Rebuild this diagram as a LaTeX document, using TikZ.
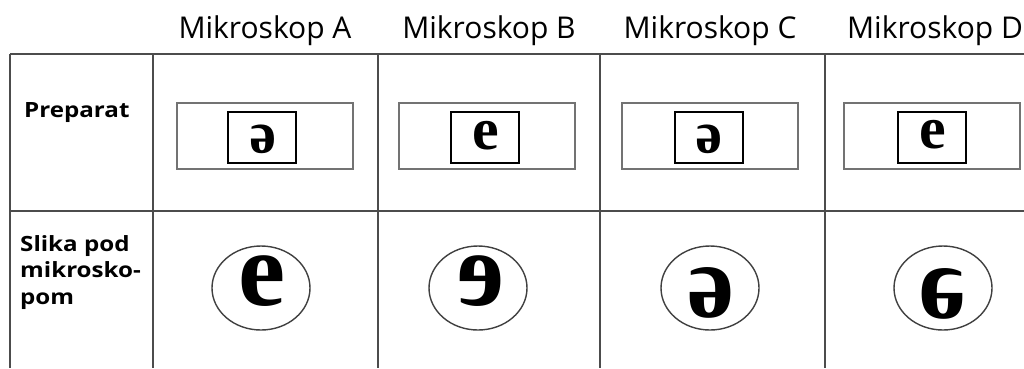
\documentclass[tikz,border=0pt]{standalone}
\usepackage{fontspec}
\setmainfont{Liberation Serif}
\newfontfamily\myserifbold{Liberation Serif Bold}
\newfontfamily\hdrfont{Open Sans}
\newfontfamily\lblfont{Open Sans Bold}[FakeStretch=1.15]
\newcommand\sg[1]{{\myserifbold\fontsize{60}{62}\selectfont #1}}
\newcommand\bg[1]{{\myserifbold\fontsize{106}{110}\selectfont #1}}
\begin{document}
\begin{tikzpicture}[x=1pt,y=-1pt,
  grid/.style={draw=black!70, line width=1.8pt},
  slide/.style={draw=black!55, line width=1.8pt},
  cover/.style={draw=black, line width=1.1pt},
  lens/.style={draw=black!75, line width=1.4pt},
  hdr/.style={font=\hdrfont\fontsize{30}{34}\selectfont, inner sep=0pt, anchor=base},
  lbl/.style={font=\lblfont\fontsize{21}{26.5}\selectfont, inner sep=0pt, align=left},
  glyph/.style={inner sep=0pt}]
\useasboundingbox[fill=white] (0,0) rectangle (1024,368);
% grid
\draw[grid] (10,54) -- (1024,54);
\draw[grid] (10,211) -- (1024,211);
\foreach \x in {10,153,378,600,825} \draw[grid] (\x,54) -- (\x,368);
% slides
\foreach \cx/\ix in {265/262,487/485,710/709,932/932}{
  \draw[slide] (\cx-88,103) rectangle (\cx+88,169);
  \draw[cover] (\ix-34,112) rectangle (\ix+34,163);
}
\node[glyph] (pA) at (263,139) {\rotatebox[origin=c]{180}{\sg{e}}};
\node[glyph] (pB) at (486,136) {\sg{e}};
\node[glyph] (pC) at (709,139) {\rotatebox[origin=c]{180}{\sg{e}}};
\node[glyph] (pD) at (933,135) {\sg{e}};
% images
\foreach \cx in {261,478,710,943}
  \draw[lens] (\cx,288) ellipse [x radius=49, y radius=42];
\node[glyph] (iA) at (262,281) {\bg{e}};
\node[glyph] (iB) at (481,281) {\scalebox{-1}[1]{\bg{e}}};
\node[glyph] (iC) at (711,293) {\rotatebox[origin=c]{180}{\bg{e}}};
\node[glyph] (iD) at (942,294) {\scalebox{1}[-1]{\bg{e}}};
% headers
\node[hdr] (hA) at (265,38) {Mikroskop A};
\node[hdr] (hB) at (489,38) {Mikroskop B};
\node[hdr] (hC) at (710,38) {Mikroskop C};
\node[hdr] (hD) at (935,38) {Mikroskop D};
% row labels
\node[lbl, anchor=base west] (lp) at (24,117) {Preparat};
\node[lbl, anchor=north west] (ls) at (20,235) {Slika pod\\mikrosko-\\pom};
\end{tikzpicture}
\end{document}
